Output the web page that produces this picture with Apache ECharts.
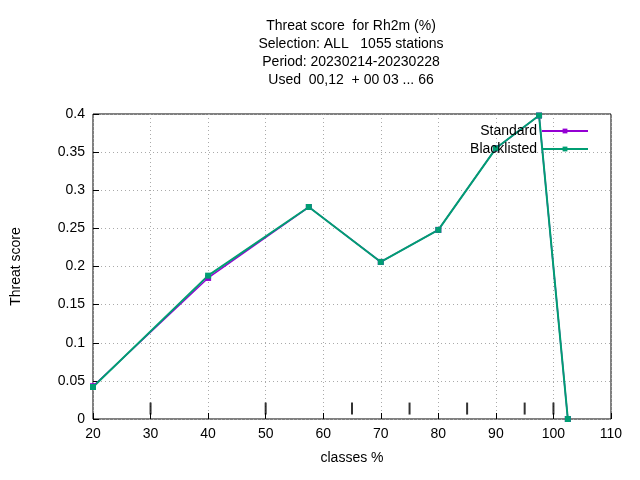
<!DOCTYPE html>
<html><head><meta charset="utf-8">
<script src="https://cdn.jsdelivr.net/npm/echarts@6/dist/echarts.min.js"></script>
<style>html,body{margin:0;background:#fff}#c{width:640px;height:480px}</style>
</head><body><div id="c"></div>
<script>
const classes = [20, 40, 57.5, 70, 80, 90, 97.5, 102.5];
const standard = [0.043, 0.185, 0.278, 0.206, 0.248, 0.355, 0.398, 0.0];
const blacklisted = [0.042, 0.188, 0.278, 0.206, 0.248, 0.355, 0.398, 0.0];
const extraTicks = [30, 50, 65, 75, 85, 95, 100];

const chart = echarts.init(document.getElementById('c'));
const font = 'Liberation Sans, Arial, sans-serif';
chart.setOption({
  backgroundColor: '#ffffff',
  animation: false,
  title: {
    text: 'Threat score  for Rh2m (%)\nSelection: ALL   1055 stations\nPeriod: 20230214-20230228\nUsed  00,12  + 00 03 ... 66',
    left: 346, top: 12, textAlign: 'center',
    textStyle: { fontSize: 14, fontWeight: 'normal', color: '#000', fontFamily: font, lineHeight: 18 }
  },
  legend: {
    right: 46, top: 119, orient: 'vertical', align: 'right', itemWidth: 46, itemHeight: 6, itemGap: 4,
    textStyle: { fontSize: 14, color: '#000', fontFamily: font },
    data: ['Standard', 'Blacklisted']
  },
  grid: { left: 93, right: 29, top: 114, bottom: 61, show: true, borderColor: '#000', borderWidth: 1 },
  xAxis: {
    type: 'value', min: 20, max: 110, interval: 10,
    name: 'classes %', nameLocation: 'middle', nameGap: 32,
    nameTextStyle: { fontSize: 14, color: '#000', fontFamily: font },
    axisLine: { show: false },
    axisTick: { inside: true, length: 6, lineStyle: { color: '#000' } },
    axisLabel: { fontSize: 14, color: '#000', fontFamily: font },
    splitLine: { lineStyle: { color: '#aaa', type: [1, 3] } }
  },
  yAxis: {
    type: 'value', min: 0, max: 0.4, interval: 0.05,
    name: 'Threat score', nameLocation: 'middle', nameGap: 70,
    nameTextStyle: { fontSize: 14, color: '#000', fontFamily: font },
    axisLine: { show: false },
    axisTick: { inside: true, length: 6, lineStyle: { color: '#000' } },
    axisLabel: { fontSize: 14, color: '#000', fontFamily: font, formatter: v => String(+v.toFixed(2)) },
    splitLine: { lineStyle: { color: '#aaa', type: [1, 3] } }
  },
  series: [
    { name: 'Standard', type: 'line', data: classes.map((x, i) => [x, standard[i]]),
      color: '#9400d3', symbol: 'rect', symbolSize: 6, lineStyle: { width: 1.5 } },
    { name: 'Blacklisted', type: 'line', data: classes.map((x, i) => [x, blacklisted[i]]),
      color: '#009e73', symbol: 'rect', symbolSize: 6, lineStyle: { width: 2 } },
    { type: 'scatter', data: extraTicks.map(x => [x, 0.0137]), symbol: 'rect', symbolSize: [2, 12],
      itemStyle: { color: '#000' }, silent: true, z: 1 }
  ]
});
</script></body></html>
